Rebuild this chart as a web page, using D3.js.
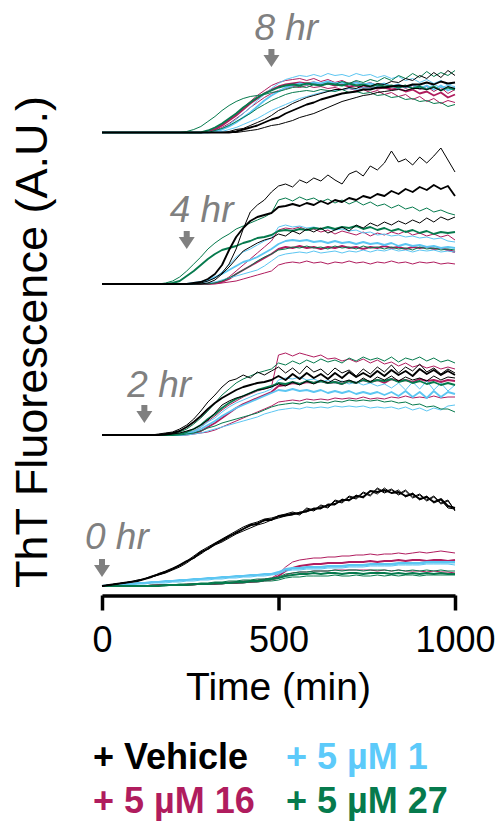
<!DOCTYPE html>
<html><head><meta charset="utf-8">
<script src="https://cdn.jsdelivr.net/npm/d3@7"></script>
<style>body{margin:0;background:#fff}svg{display:block}text{font-family:"Liberation Sans",Arial,Helvetica,sans-serif}</style>
</head><body><svg id="c" width="500" height="824"></svg>
<script>
// ---------- data ----------
const timeMin = [0,20,40,60,80,100,120,140,160,180,200,220,240,260,280,300,320,340,360,380,400,420,440,460,480,500,520,540,560,580,600,620,640,660,680,700,720,740,760,780,800,820,840,860,880,900,920,940,960,980,1000];
const xTicks = [0,500,1000];
const conditions = ["+ Vehicle","+ 5 \u00b5M 1","+ 5 \u00b5M 16","+ 5 \u00b5M 27"];
const annotTimes = [480,240,120,0];
const annotLabels = ["8 hr","4 hr","2 hr","0 hr"];

// ThT fluorescence (A.U.), three replicates per condition; panel = time of compound addition
const hr8_vehicle = [
 [0,0,0,0,0,0,0,0,0,0,0,0,0,0,0,0,0,0,1,3,4,7,10,13,17,22,25,29,32,35,37,39,41,43,43,45,44,47,46,49,48,51,50,54,52,57,54,60,55,62,57],
 [0,0,0,0,0,0,0,0,0,0,0,0,0,0,0,0,0,0,0,1,3,5,7,10,13,15,19,22,25,28,30,33,35,37,39,40,41,43,43,45,45,46,47,46,48,48,50,48,51,49,50],
 [0,0,0,0,0,0,0,0,0,0,0,0,0,0,0,0,0,0,0,0,1,2,3,5,7,8,10,12,15,17,19,22,25,28,31,33,35,37,38,40,41,42,43,42,44,44,43,45,42,46,44]];
const hr8_cpd1 = [
 [0,0,0,0,0,0,0,0,0,0,0,0,0,0,0,0,1,4,8,13,19,25,32,38,44,49,53,55,57,56,58,56,59,57,58,56,59,57,58,55,57,54,56,52,54,50,53,49,52,47,50],
 [0,0,0,0,0,0,0,0,0,0,0,0,0,0,0,0,1,3,6,10,15,20,26,32,37,41,45,47,49,48,50,49,51,49,50,48,50,48,49,47,49,46,48,45,48,44,47,43,47,42,45],
 [0,0,0,0,0,0,0,0,0,0,0,0,0,0,0,0,0,1,3,5,8,11,14,18,22,25,28,31,34,36,38,40,41,42,43,44,43,45,44,46,45,46,44,47,45,47,44,48,45,47,46]];
const hr8_cpd16 = [
 [0,0,0,0,0,0,0,0,0,0,0,0,0,0,0,1,4,8,13,19,25,31,37,42,47,50,52,53,54,52,54,51,53,50,52,49,51,48,50,47,49,46,48,44,47,43,46,41,45,39,43],
 [0,0,0,0,0,0,0,0,0,0,0,0,0,0,0,1,3,7,12,17,23,29,34,39,43,46,48,49,50,49,50,48,49,47,48,46,47,45,46,44,45,43,44,41,43,39,41,37,40,35,38],
 [0,0,0,0,0,0,0,0,0,0,0,0,0,0,0,0,2,5,9,14,19,25,30,35,39,42,44,46,45,47,45,46,44,45,43,44,42,43,40,42,38,40,36,38,33,36,31,34,29,32,30]];
const hr8_cpd27 = [
 [0,0,0,0,0,0,0,0,0,0,0,0,1,3,6,11,16,22,27,31,34,36,37,38,40,41,43,45,46,45,48,47,49,48,51,49,52,50,53,51,55,52,57,54,59,55,61,56,60,57,62],
 [0,0,0,0,0,0,0,0,0,0,0,0,0,0,0,2,5,9,14,19,25,30,35,39,42,45,47,48,47,49,48,47,49,48,47,49,47,48,46,48,46,47,45,47,44,46,43,46,42,45,43],
 [0,0,0,0,0,0,0,0,0,0,0,0,0,0,0,0,2,4,7,11,15,19,24,28,32,35,38,40,41,42,41,43,42,41,43,40,41,39,40,37,38,35,36,33,34,31,32,29,30,26,28]];

const hr4_vehicle = [
 [0,0,0,0,0,0,0,0,0,0,0,0,0,0,1,3,6,11,20,35,55,72,79,84,92,98,100,97,104,101,106,103,109,104,100,110,113,108,118,114,121,133,122,125,119,127,121,128,136,124,112],
 [0,0,0,0,0,0,0,0,0,0,0,0,0,1,2,5,10,19,34,47,56,63,67,69,71,77,78,80,78,81,79,83,80,84,82,86,84,88,86,90,88,93,90,95,92,97,94,99,95,98,88],
 [0,0,0,0,0,0,0,0,0,0,0,0,0,0,0,1,4,10,17,25,33,37,41,44,46,50,48,53,50,55,52,56,51,54,57,53,59,56,61,58,62,59,63,60,64,61,66,62,67,64,67]];
const hr4_cpd1 = [
 [0,0,0,0,0,0,0,0,0,0,0,0,0,0,1,3,6,12,19,27,32,35,39,43,46,57,59,57,58,56,57,55,56,54,55,53,54,51,52,49,50,48,49,47,48,46,47,45,46,43,42],
 [0,0,0,0,0,0,0,0,0,0,0,0,0,1,2,4,7,10,14,18,22,24,27,31,35,40,43,44,43,44,42,43,41,43,41,42,40,42,40,41,39,41,38,40,38,39,37,38,36,37,36],
 [0,0,0,0,0,0,0,0,0,0,0,0,0,0,1,1,2,4,6,8,10,12,14,18,23,28,30,31,32,31,33,31,32,33,31,33,32,34,32,34,33,35,33,34,32,34,33,34,32,33,32]];
const hr4_cpd16 = [
 [0,0,0,0,0,0,0,0,0,0,0,0,0,0,0,0,1,3,7,13,19,25,31,37,43,54,56,55,57,54,55,52,54,50,53,51,49,52,48,51,49,52,50,53,49,51,48,50,47,49,44],
 [0,0,0,0,0,0,0,0,0,0,0,0,0,0,0,0,1,2,5,10,14,18,22,26,30,35,37,36,38,36,37,35,37,36,38,36,37,35,37,36,38,36,37,35,37,36,37,35,36,34,32],
 [0,0,0,0,0,0,0,0,0,0,0,0,0,0,0,0,0,1,2,3,5,7,9,11,13,19,21,22,21,23,21,22,20,22,21,23,21,22,20,22,21,23,21,22,20,22,21,22,20,21,20]];
const hr4_cpd27 = [
 [0,0,0,0,0,0,0,0,0,1,3,7,13,20,27,35,41,46,50,55,58,61,64,67,71,84,86,83,87,84,86,82,85,81,84,80,83,79,82,78,80,76,79,75,77,73,76,72,74,71,69],
 [0,0,0,0,0,0,0,0,0,0,1,3,8,13,19,25,30,34,36,38,41,43,46,47,49,53,54,53,55,54,56,55,57,55,57,56,58,55,57,54,56,53,55,52,54,51,53,50,52,51,52],
 [0,0,0,0,0,0,0,0,0,0,0,0,0,0,0,0,1,3,6,10,14,18,23,27,30,34,35,37,36,38,36,37,35,38,36,37,35,38,36,37,35,37,35,36,34,37,35,36,34,35,34]];

const hr2_vehicle = [
 [0,0,0,0,0,0,0,0,1,2,3,6,10,16,24,33,40,48,54,56,60,57,63,60,64,68,62,67,61,69,63,66,60,67,62,65,59,66,61,68,63,70,62,68,64,71,63,67,61,66,62],
 [0,0,0,0,0,0,0,0,0,1,2,4,8,13,19,26,32,37,41,45,48,50,52,53,55,59,55,61,56,62,57,61,56,62,57,63,58,62,58,64,59,65,60,64,59,66,61,65,60,64,60],
 [0,0,0,0,0,0,0,0,0,0,1,2,4,6,10,15,22,30,34,37,39,42,45,46,48,51,49,53,50,54,51,55,52,56,53,55,52,57,53,58,55,59,54,58,55,57,54,59,55,58,57]];
const hr2_cpd1 = [
 [0,0,0,0,0,0,0,0,0,0,0,1,2,4,8,13,17,23,28,32,35,38,41,43,46,55,57,56,58,55,56,53,55,52,54,51,53,50,52,49,51,47,52,45,53,46,54,45,52,44,50],
 [0,0,0,0,0,0,0,0,0,0,0,0,1,3,6,10,14,19,23,27,30,33,36,39,42,45,44,46,44,45,43,45,42,44,42,44,41,43,41,43,40,43,39,44,38,43,37,44,38,43,41],
 [0,0,0,0,0,0,0,0,0,0,0,0,0,1,2,4,6,8,10,12,14,16,18,21,23,25,26,27,26,28,27,28,27,29,28,29,28,29,27,28,27,28,26,28,25,27,24,27,25,29,30]];
const hr2_cpd16 = [
 [0,0,0,0,0,0,0,0,0,0,0,1,2,4,8,14,19,25,30,34,38,41,44,46,48,80,82,79,82,80,78,80,76,77,74,76,73,76,72,75,71,73,69,72,68,70,67,69,66,68,66],
 [0,0,0,0,0,0,0,0,0,0,0,0,1,2,4,8,12,17,22,27,31,34,37,40,43,49,50,52,51,53,52,54,52,53,51,54,52,55,53,55,52,56,54,55,53,56,54,55,53,55,54],
 [0,0,0,0,0,0,0,0,0,0,0,0,0,1,2,3,5,8,11,14,17,20,23,26,29,33,34,35,34,36,35,36,35,37,36,37,36,38,36,37,36,38,37,39,37,38,37,39,37,38,38]];
const hr2_cpd27 = [
 [0,0,0,0,0,0,0,0,0,0,1,3,6,11,17,24,32,40,46,52,56,59,62,64,66,72,70,74,71,75,72,76,73,75,72,77,74,78,75,77,74,78,73,77,75,78,74,77,73,75,72],
 [0,0,0,0,0,0,0,0,0,0,0,1,3,6,10,16,21,27,32,36,39,42,45,47,49,52,51,53,51,54,52,54,52,53,51,54,52,55,53,55,54,56,53,55,52,54,51,53,50,52,50],
 [0,0,0,0,0,0,0,0,0,0,0,0,1,2,4,7,9,12,14,16,18,20,22,25,28,30,31,32,31,33,32,33,32,34,33,35,34,35,34,35,33,34,32,33,30,31,28,29,26,26,23]];

const hr0_vehicle = [
 [0,1,2,3,4,5,7,9,11,14,17,20,24,29,33,38,42,45,49,54,57,60,63,65,67,69,70,73,71,77,75,80,78,85,83,89,87,93,90,97,93,96,91,95,88,91,85,89,82,85,76],
 [0,1,2,3,4,5,7,9,12,14,17,21,25,28,34,37,42,46,50,53,57,61,62,66,66,70,71,72,73,75,77,78,81,82,86,86,90,89,95,94,96,93,94,90,92,87,89,84,87,80,78],
 [0,1,2,3,4,6,7,9,11,13,16,19,23,28,32,37,41,44,48,52,55,58,61,63,66,68,70,71,74,74,78,77,82,81,87,85,91,88,95,92,98,93,96,89,93,86,90,83,86,78,77],
 [0,1,2,3,4,5,7,10,12,15,18,21,25,30,35,39,43,47,51,55,59,62,64,67,68,70,72,74,72,78,76,81,79,86,84,90,88,94,91,98,94,97,92,96,89,92,86,90,83,86,75]];
const hr0_cpd1 = [
 [0,0,1,1,2,2,3,3,4,4,5,5,6,6,7,7,8,8,9,9,10,10,11,11,12,13,16,17,17,18,18,18,19,19,19,20,20,20,21,21,21,21,22,22,22,22,23,23,23,23,23],
 [0,1,1,2,2,3,3,4,4,5,5,6,6,7,7,8,8,9,9,10,10,11,11,12,12,14,17,18,18,19,19,19,20,20,20,21,21,21,22,22,22,22,23,23,23,23,24,24,24,24,24],
 [0,0,0,1,1,2,2,3,3,3,4,4,5,5,6,6,7,7,8,8,9,9,10,10,11,12,15,16,16,17,17,17,18,18,18,19,19,19,20,20,20,20,21,21,21,21,22,22,22,22,21]];
const hr0_cpd16 = [
 [0,0,0,0,0,0,0,1,1,1,1,1,2,2,2,2,3,3,4,4,5,5,6,7,8,12,19,24,26,27,28,28,29,29,30,30,31,31,32,31,32,32,33,32,33,34,33,34,35,34,33],
 [0,0,0,0,0,0,0,0,1,1,1,1,1,2,2,2,2,3,3,3,4,4,5,6,7,10,15,18,20,21,22,22,23,23,23,24,24,24,25,24,25,25,26,25,26,26,25,26,26,25,26],
 [0,0,0,0,0,0,0,0,0,1,1,1,1,1,2,2,2,2,3,3,3,4,4,5,6,8,11,13,14,14,15,15,15,16,16,16,16,16,16,15,16,15,16,15,15,15,14,15,14,14,13]];
const hr0_cpd27 = [
 [0,0,0,0,0,0,0,1,1,1,1,2,2,2,3,3,4,4,5,5,6,6,7,7,8,9,12,13,14,14,15,15,15,16,15,16,16,15,16,16,16,15,16,15,16,15,16,15,16,15,15],
 [0,0,0,0,0,0,0,0,0,1,1,1,1,2,2,2,3,3,3,4,4,5,5,6,7,8,10,11,12,12,13,12,13,13,12,13,13,12,13,13,13,12,13,12,13,12,13,12,13,12,12],
 [0,0,0,0,0,0,0,0,0,0,1,1,1,1,2,2,2,2,3,3,3,4,4,5,5,6,8,9,9,10,10,10,10,11,10,10,11,10,10,11,10,11,10,11,11,10,11,11,11,11,11]];

// ---------- layout / style ----------
const colors = {vehicle:"#000000", cpd1:"#5cc6f2", cpd16:"#b01c5e", cpd27:"#067a4d"};
const legendColors = ["#000000","#5ccafa","#b01c5e","#067a4d"];
const panelBase = [132.5, 284, 435, 586];
const annotTextY = [40, 222, 397, 549];
const annotArrowTip = [67, 249, 423, 577];
const panels = [
  {vehicle:hr8_vehicle, cpd1:hr8_cpd1, cpd16:hr8_cpd16, cpd27:hr8_cpd27},
  {vehicle:hr4_vehicle, cpd1:hr4_cpd1, cpd16:hr4_cpd16, cpd27:hr4_cpd27},
  {vehicle:hr2_vehicle, cpd1:hr2_cpd1, cpd16:hr2_cpd16, cpd27:hr2_cpd27},
  {vehicle:hr0_vehicle, cpd1:hr0_cpd1, cpd16:hr0_cpd16, cpd27:hr0_cpd27}];
const drawOrder = ["cpd16","cpd1","cpd27","vehicle"];

const svg = d3.select("#c");
const x = d3.scaleLinear().domain([0,1000]).range([102,455]);

panels.forEach((p, pi) => {
  const y = d3.scaleLinear().domain([0,150]).range([panelBase[pi], panelBase[pi]-150]);
  const g = svg.append("g");
  drawOrder.forEach(key => {
    p[key].forEach((rep, ri) => {
      const off = timeMin.length - rep.length;
      const line = d3.line().x((d,i)=>x(timeMin[i+off])).y(d=>y(d));
      g.append("path").datum(rep).attr("d", line)
        .attr("fill","none").attr("stroke", colors[key])
        .attr("stroke-width", ri===1 ? 1.9 : 1)
        .attr("stroke-linejoin","round");
    });
  });
  // annotation arrow + label
  const ax = x(annotTimes[pi]);
  const tip = annotArrowTip[pi];
  const ar = d3.path();
  ar.moveTo(ax-3, tip-18); ar.lineTo(ax+3, tip-18); ar.lineTo(ax+3, tip-12);
  ar.lineTo(ax+8, tip-12); ar.lineTo(ax, tip); ar.lineTo(ax-8, tip-12);
  ar.lineTo(ax-3, tip-12); ar.closePath();
  svg.append("path").attr("d", ar.toString()).attr("fill","#808080");
  svg.append("text").attr("x", ax-17).attr("y", annotTextY[pi])
    .attr("font-size", 37).attr("font-style","italic").attr("fill","#808080")
    .text(annotLabels[pi]);
});

// x axis
const axisY = 595.5;
const xa = svg.append("g").attr("transform", `translate(0,${axisY})`)
  .call(d3.axisBottom(x).tickValues(xTicks).tickFormat(d3.format("d"))
    .tickSize(15).tickPadding(16).tickSizeOuter(0));
xa.select(".domain").attr("stroke","#000").attr("stroke-width",3.5);
xa.selectAll(".tick line").attr("stroke","#000").attr("stroke-width",3.5);
xa.selectAll(".tick text").attr("font-size",36).attr("fill","#000")
  .attr("font-family","'Liberation Sans',Arial,sans-serif");

svg.append("text").attr("x", 278.5).attr("y", 700).attr("text-anchor","middle")
  .attr("font-size", 39).text("Time (min)");
svg.append("text").attr("transform","translate(47,342) rotate(-90)").attr("text-anchor","middle")
  .attr("font-size", 45).text("ThT Fluorescence (A.U.)");

// legend
const legPos = [[93,769],[286,769],[93,813],[286,813]];
conditions.forEach((c, i) => {
  svg.append("text").attr("x", legPos[i][0]).attr("y", legPos[i][1])
    .attr("font-size", 36).attr("font-weight","bold").attr("fill", legendColors[i])
    .text(c);
});
</script></body></html>
